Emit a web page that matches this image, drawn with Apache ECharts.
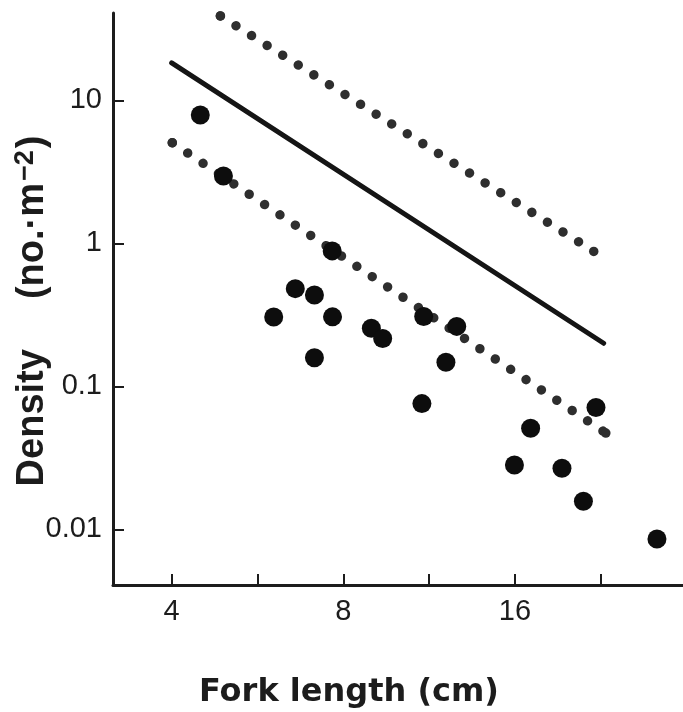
<!DOCTYPE html>
<html>
<head>
<meta charset="utf-8">
<script src="https://cdn.jsdelivr.net/npm/echarts@6/dist/echarts.min.js"></script>
<style>
  html, body { margin: 0; padding: 0; background: #fff; }
  #chart { width: 683px; height: 712px; }
</style>
</head>
<body>
<div id="chart"></div>
<script>
// fork length (cm) vs density (no. m^-2), log-log
var lengthCm = [4.49, 4.93, 7.65, 6.59, 7.12, 6.04, 7.66, 7.12, 8.96, 9.38, 11.07, 12.65, 12.11, 10.99, 22.2, 17.05, 15.97, 19.35, 21.1, 28.4];
var density = [7.89, 2.96, 0.885, 0.482, 0.435, 0.305, 0.306, 0.1585, 0.255, 0.2157, 0.3078, 0.2624, 0.1471, 0.0757, 0.0711, 0.0509, 0.02817, 0.02676, 0.01572, 0.00856];

// fitted line and the two dotted limits, end points only
var fitX = [4.0, 22.9];
var fitY = [18.3, 0.2];
var upperX = [4.87, 22.0];
var upperY = [38.9, 0.878];
var lowerX = [4.01, 23.1];
var lowerY = [5.05, 0.0471];

var xTicks = [4, 5.657, 8, 11.314, 16, 22.627];
var xLabels = [4, 8, 16];
var yTicks = [0.01, 0.1, 1, 10];

function pairs(xs, ys) {
  var out = [];
  for (var i = 0; i < xs.length; i++) out.push([xs[i], ys[i]]);
  return out;
}

var ink = "#1c1c1c";
var chart = echarts.init(document.getElementById("chart"));

function dotted(xs, ys, gap) {
  return {
    type: "line",
    data: pairs(xs, ys),
    symbol: "circle",
    symbolSize: 9.5,
    itemStyle: { color: "#2e2e2e" },
    lineStyle: { color: "#2e2e2e", width: 9.5, type: [0.01, gap], cap: "round" },
    z: 2
  };
}

var option = {
  animation: false,
  backgroundColor: "#fff",
  grid: { left: 113, right: 0, top: 13, bottom: 127, outerBoundsMode: "none", containLabel: false },
  xAxis: {
    type: "log",
    logBase: 2,
    min: 3.156,
    max: 31.55,
    name: "Fork length (cm)",
    nameLocation: "middle",
    nameGap: 92,
    nameMoveOverlap: false,
    nameTextStyle: {
      fontFamily: "DejaVu Sans",
      fontWeight: "bold",
      fontSize: 32,
      color: ink,
      padding: [0, 98, 0, 0]
    },
    axisLine: { onZero: false, lineStyle: { color: ink, width: 3 } },
    axisTick: { inside: true, length: 11, customValues: xTicks, lineStyle: { color: ink, width: 2 } },
    axisLabel: {
      customValues: xLabels,
      margin: 12,
      fontFamily: "Liberation Sans",
      fontSize: 29,
      color: ink
    },
    splitLine: { show: false }
  },
  yAxis: {
    type: "log",
    logBase: 10,
    min: 0.004078,
    max: 40.8,
    name: "{d|Density}{a|(no.·m}{s|−2}{a|)}",
    nameLocation: "middle",
    nameRotate: 90,
    nameGap: 60,
    nameMoveOverlap: false,
    nameTextStyle: {
      padding: [0, 24, 0, 0],
      rich: {
        d: { fontFamily: "Liberation Sans", fontWeight: "bold", fontSize: 38, color: ink, padding: [0, 50, 0, 0], verticalAlign: "middle" },
        a: { fontFamily: "Liberation Sans", fontWeight: "bold", fontSize: 38, color: ink, verticalAlign: "middle" },
        s: { fontFamily: "Liberation Sans", fontWeight: "bold", fontSize: 27, color: ink, padding: [0, 2, 14, 2], verticalAlign: "middle" }
      }
    },
    axisLine: { onZero: false, lineStyle: { color: ink, width: 3 } },
    axisTick: { inside: true, length: 11, customValues: yTicks, lineStyle: { color: ink, width: 2 } },
    axisLabel: {
      customValues: yTicks,
      margin: 11,
      fontFamily: "Liberation Sans",
      fontSize: 29,
      color: ink
    },
    splitLine: { show: false }
  },
  series: [
    dotted(upperX, upperY, 18.4),
    dotted(lowerX, lowerY, 18.5),
    {
      type: "line",
      data: pairs(fitX, fitY),
      symbol: "none",
      lineStyle: { color: "#151515", width: 5, cap: "round" },
      z: 3
    },
    {
      type: "scatter",
      data: pairs(lengthCm, density),
      symbol: "circle",
      symbolSize: 19,
      itemStyle: { color: "#0d0d0d", opacity: 1 },
      z: 4
    }
  ]
};

chart.setOption(option);
</script>
</body>
</html>
